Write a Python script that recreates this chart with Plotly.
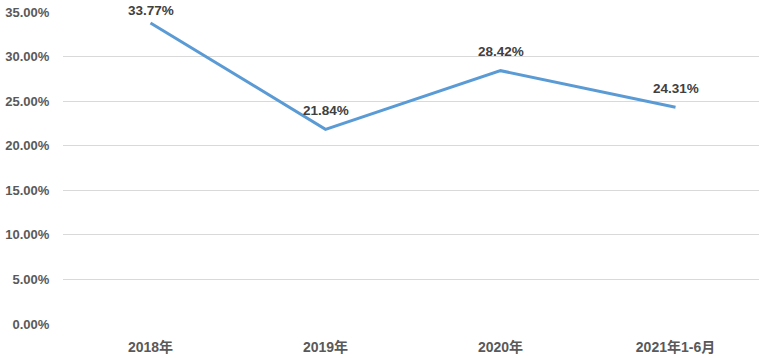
import plotly.graph_objects as go

categories = ["2018年", "2019年", "2020年", "2021年1-6月"]
values = [33.77, 21.84, 28.42, 24.31]
y_ticks = [0, 5, 10, 15, 20, 25, 30, 35]

W, H = 759, 358
ml, mr, mt, mb = 63, 0, 12, 34
ymax = 35.0
plot_h = H - mt - mb

fig = go.Figure()
fig.add_trace(go.Scatter(
    x=categories, y=values, mode="lines",
    line=dict(color="#5B9BD5", width=3),
    hoverinfo="skip", cliponaxis=False,
))

font_fam = "Liberation Sans, Noto Sans CJK SC, sans-serif"
for c, v in zip(categories, values):
    py = mt + plot_h * (1 - v / ymax)
    shift = min(19, py - 11)
    fig.add_annotation(x=c, y=v, text=f"<b>{v:.2f}%</b>", showarrow=False,
                       yshift=shift, font=dict(family=font_fam, size=13.5, color="#404040"))

fig.update_layout(
    width=W, height=H,
    margin=dict(l=ml, r=mr, t=mt, b=mb),
    paper_bgcolor="white", plot_bgcolor="white",
    showlegend=False,
    font=dict(family=font_fam, size=12, color="#595959"),
)
fig.update_xaxes(
    type="category", range=[-0.5, 3.477],
    showgrid=False, showline=False, zeroline=False,
    ticks="outside", ticklen=10, tickcolor="rgba(0,0,0,0)",
    tickfont=dict(family=font_fam, size=14, color="#595959", weight="bold"),
)
fig.update_yaxes(
    range=[0, ymax], tickvals=y_ticks,
    ticktext=[f"{t:.2f}%" for t in y_ticks],
    showgrid=True, gridcolor="#D9D9D9", gridwidth=1,
    zeroline=False, showline=False,
    ticks="outside", ticklen=10, tickcolor="rgba(0,0,0,0)",
    tickfont=dict(family=font_fam, size=13, color="#595959", weight="bold"),
)

fig.write_html("out.html", config={"displayModeBar": False},
               post_script="document.body.style.margin='0';document.body.style.overflow='hidden';")
